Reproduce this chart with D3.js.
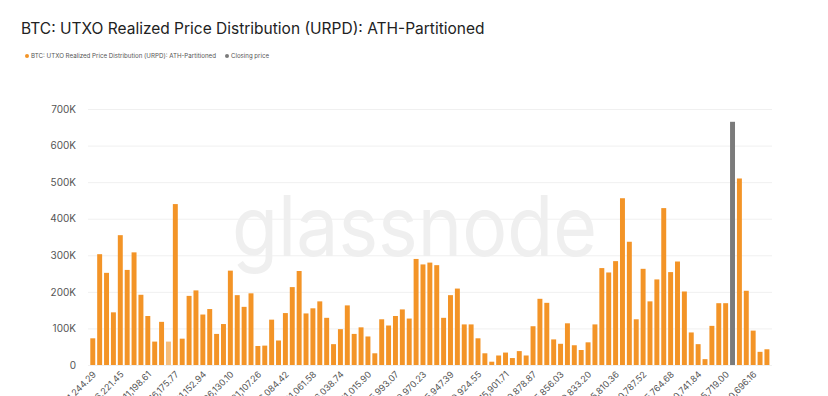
<!DOCTYPE html>
<html>
<head>
<meta charset="utf-8">
<script src="https://cdn.jsdelivr.net/npm/d3@7"></script>
<style>
  body { margin: 0; background: #fff; }
  text { font-family: Inter, "Noto Sans", sans-serif; }
</style>
</head>
<body>
<div id="chart"></div>
<script>
// URPD values per price bucket (bucket width 1,244.29)
const urpd = [
  73000, 303000, 252000, 144000, 355000, 260000, 308000, 192000, 134000, 64000,
  118000, 64000, 440000, 72000, 189000, 204000, 138000, 153000, 85000, 112000,
  258000, 191000, 159000, 196000, 52000, 53000, 124000, 67000, 142000, 213000,
  257000, 141000, 155000, 174000, 129000, 57000, 98000, 163000, 85000, 103000,
  78000, 32000, 125000, 108000, 134000, 152000, 127000, 290000, 275000, 280000,
  273000, 129000, 191000, 209000, 111000, 111000, 73000, 32000, 9000, 26000,
  34000, 19000, 38000, 26000, 106000, 181000, 170000, 70000, 58000, 114000,
  54000, 41000, 62000, 111000, 265000, 253000, 284000, 456000, 337000, 125000,
  263000, 174000, 234000, 429000, 254000, 283000, 201000, 89000, 57000, 16000,
  107000, 169000, 169000, 0, 510000, 203000, 94000, 36000, 43000
];

// closing price bucket and marker height
const closeIndex = 93;
const closeValue = 665000;

// bucket that is shown highlighted (lighter)
const highlightIndex = 11;

const tickLabels = [
  "1,244.29", "6,221.45", "11,198.61", "16,175.77", "21,152.94", "26,130.10",
  "31,107.26", "36,084.42", "41,061.58", "46,038.74", "51,015.90", "55,993.07",
  "60,970.23", "65,947.39", "70,924.55", "75,901.71", "80,878.87", "85,856.03",
  "90,833.20", "95,810.36", "100,787.52", "105,764.68", "110,741.84", "115,719.00",
  "120,696.16"
];
const tickEvery = 4;

const yTicks = [0, 100000, 200000, 300000, 400000, 500000, 600000, 700000];

// Setup
const width = 828;
const height = 396;
const orange = "#f39427";
const grey = "#7b7b7b";

const svg = d3.select("#chart")
              .append("svg")
              .attr("width", width)
              .attr("height", height);

const x = d3.scaleBand()
            .domain(d3.range(urpd.length))
            .range([90.3, 769.4])
            .paddingInner(0.28)
            .paddingOuter(0);

const y = d3.scaleLinear()
            .domain([0, 700000])
            .range([365, 109]);

// title + legend
svg.append("text")
   .attr("x", 21)
   .attr("y", 34)
   .attr("font-size", 15.5)
   .attr("fill", "#222")
   .text("BTC: UTXO Realized Price Distribution (URPD): ATH-Partitioned");

const legend = svg.append("g").attr("font-size", 6.5).attr("fill", "#555");
legend.append("circle").attr("cx", 27).attr("cy", 56).attr("r", 2).attr("fill", orange);
legend.append("text").attr("x", 31).attr("y", 58.3)
      .attr("textLength", 185).attr("lengthAdjust", "spacingAndGlyphs")
      .text("BTC: UTXO Realized Price Distribution (URPD): ATH-Partitioned");
legend.append("circle").attr("cx", 227).attr("cy", 56).attr("r", 2).attr("fill", grey);
legend.append("text").attr("x", 231).attr("y", 58.3)
      .attr("textLength", 38).attr("lengthAdjust", "spacingAndGlyphs")
      .text("Closing price");

// gridlines + y axis
const yAxis = d3.axisLeft(y)
                .tickValues(yTicks)
                .tickSize(-(772 - 88))
                .tickFormat(d => d === 0 ? "0" : d3.format("~s")(d).replace("k", "K"));

svg.append("g")
   .attr("transform", "translate(88,0)")
   .call(yAxis)
   .call(g => g.select(".domain").remove())
   .call(g => g.selectAll(".tick line").attr("stroke", "#f0f0f0"))
   .call(g => g.selectAll(".tick text")
               .attr("x", -12)
               .attr("fill", "#555")
               .attr("font-size", 10)
               .attr("font-family", "Inter, 'Noto Sans', sans-serif"));

// watermark
svg.append("text")
   .attr("x", 232)
   .attr("y", 256)
   .attr("font-size", 84)
   .attr("font-weight", 400)
   .attr("fill", "#efefef")
   .attr("textLength", 365)
   .attr("lengthAdjust", "spacingAndGlyphs")
   .text("glassnode");

// bars
svg.append("g")
   .selectAll("rect")
   .data(urpd)
   .enter().append("rect")
     .attr("x", (d, i) => x(i))
     .attr("y", d => y(d))
     .attr("width", x.bandwidth())
     .attr("height", d => y(0) - y(d))
     .attr("fill", (d, i) => i === highlightIndex ? "#f6bd7a" : orange);

svg.append("rect")
   .attr("x", x(closeIndex))
   .attr("y", y(closeValue))
   .attr("width", x.bandwidth())
   .attr("height", y(0) - y(closeValue))
   .attr("fill", grey);

// x axis labels (rotated, run off the bottom edge as in the original)
const xAxis = d3.axisBottom(x)
                .tickValues(d3.range(0, urpd.length, tickEvery))
                .tickSize(0)
                .tickFormat(i => tickLabels[i / tickEvery]);

svg.append("g")
   .attr("transform", "translate(0,365)")
   .call(xAxis)
   .call(g => g.select(".domain").remove())
   .call(g => g.selectAll(".tick text")
               .attr("fill", "#555")
               .attr("font-size", 9)
               .attr("font-family", "Inter, 'Noto Sans', sans-serif")
               .attr("text-anchor", "end")
               .attr("dy", 0)
               .attr("y", 0)
               .attr("transform", "translate(4,10) rotate(-45)"));
</script>
</body>
</html>
